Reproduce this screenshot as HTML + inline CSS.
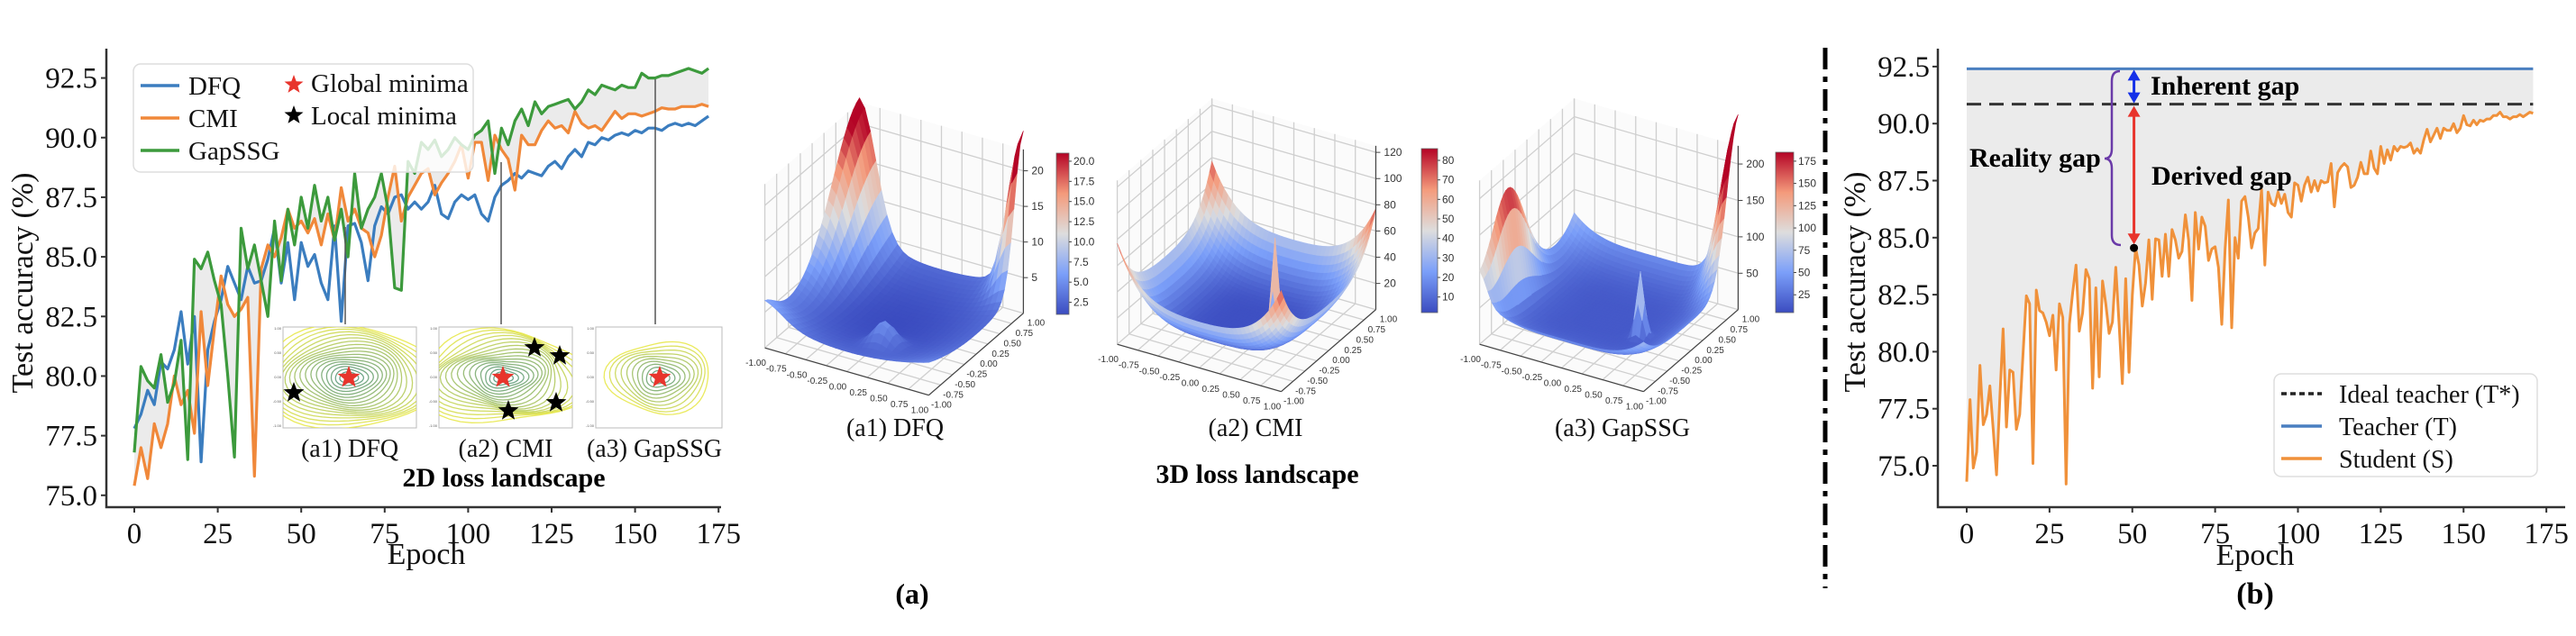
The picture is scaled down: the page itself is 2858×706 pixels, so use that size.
<!DOCTYPE html>
<html><head><meta charset="utf-8"><title>Loss landscape and accuracy gap figure</title>
<style>
html,body{margin:0;padding:0;background:#fff;}
svg{display:block;font-family:"Liberation Serif",serif;}
</style></head>
<body>
<svg id="fig" xmlns="http://www.w3.org/2000/svg" width="2858" height="706" viewBox="0 0 2858 706">
  <defs>
    <linearGradient id="cw" x1="0" y1="1" x2="0" y2="0">
      <stop offset="0" stop-color="#3b4cc0"/><stop offset="0.25" stop-color="#7b9ff9"/>
      <stop offset="0.5" stop-color="#dddddd"/><stop offset="0.75" stop-color="#f49a7b"/>
      <stop offset="1" stop-color="#b40426"/>
    </linearGradient>
    <clipPath id="clipA1"><rect x="314" y="363" width="148" height="112"/></clipPath>
    <clipPath id="clipA2"><rect x="487" y="363" width="148" height="112"/></clipPath>
    <clipPath id="clipA3"><rect x="661" y="363" width="140" height="112"/></clipPath>
  </defs>
  <g id="left"></g>
  <g id="mid"></g>
  <line x1="2025" y1="53" x2="2025" y2="653" stroke="#000" stroke-width="5" stroke-dasharray="24,8,6,8"/>
  <g id="right"></g>
</svg>
<script>
// ---------- Left chart data ----------
const leftEpochStep = 2;
const dfqAcc = [77.8,78.4,79.4,78.8,80.6,80.3,81.1,82.7,80.5,82.5,
76.4,81.1,82.3,83.2,84.6,83.9,83.2,84.6,83.9,84.0,
84.9,86.2,83.9,85.6,83.2,85.6,84.6,85.1,83.9,83.2,
86.3,82.3,86.3,86.4,85.6,84.0,86.3,87.1,86.8,87.5,
87.6,87.0,87.3,87.0,87.3,88.0,86.8,86.6,87.3,87.6,
87.4,87.6,86.8,86.5,87.5,88.0,88.2,88.5,88.3,88.6,
88.5,88.4,88.8,89.0,88.7,89.2,89.5,89.2,89.8,89.7,
90.0,89.9,90.1,90.2,90.1,90.3,90.2,90.4,90.4,90.3,
90.5,90.6,90.5,90.6,90.5,90.7,90.9];
const cmiAcc = [75.4,77.0,75.7,78.0,77.0,78.0,80.0,78.8,79.4,77.6,
82.7,79.6,82.0,84.2,83.0,82.5,82.8,83.3,75.8,84.5,
85.5,85.0,85.8,87.0,86.2,86.5,86.0,86.6,85.5,86.8,
85.7,87.9,86.5,87.0,86.2,86.0,85.0,85.9,87.5,88.8,
86.5,87.5,88.0,88.5,88.7,87.6,88.1,88.5,89.0,89.7,
88.3,89.8,89.8,88.2,90.1,89.5,89.1,87.8,90.1,89.7,
89.7,90.3,90.7,90.4,90.5,90.2,91.1,90.6,90.4,90.5,
90.3,90.7,91.1,90.8,91.0,91.0,90.9,91.0,91.1,91.25,
91.2,91.2,91.3,91.3,91.3,91.4,91.3];
const gapssgAcc = [76.8,80.4,79.8,79.5,80.9,78.9,79.7,81.5,76.5,84.9,
84.5,85.2,84.0,83.0,80.0,76.6,86.2,84.5,85.5,84.0,
82.5,86.5,84.0,87.0,85.5,87.5,86.2,88.0,86.5,87.5,
85.7,87.0,85.0,88.5,86.2,87.0,87.5,88.5,87.0,83.7,
83.6,89.0,88.5,89.8,89.5,89.9,89.2,89.5,90.0,89.7,
89.5,90.1,90.3,90.7,88.5,90.4,89.7,90.7,91.2,90.5,
91.5,91.0,91.3,91.4,91.5,91.6,91.2,91.5,92.0,91.8,
92.2,92.1,92.0,92.2,92.1,92.1,92.7,92.5,92.5,92.6,
92.6,92.7,92.8,92.9,92.8,92.7,92.9];
const yTicks = [75.0,77.5,80.0,82.5,85.0,87.5,90.0,92.5];
const xTicks = [0,25,50,75,100,125,150,175];

// ---------- Right chart data ----------
const studentAcc = [74.3,77.9,74.9,75.6,79.4,76.8,77.25,78.5,76.6,74.6,
78.0,81.0,76.7,79.2,79.1,76.6,77.25,79.9,82.45,82.1,
75.1,82.7,81.8,81.7,81.3,80.7,81.6,79.2,82.1,81.5,
74.2,81.2,82.6,83.8,80.9,81.7,83.6,83.2,78.4,82.8,
78.9,83.1,82.1,80.8,81.3,83.7,81.2,78.6,83.2,79.1,
82.5,84.55,83.8,82.0,83.0,84.9,82.3,84.95,84.9,83.3,
85.15,83.3,85.35,84.9,84.1,84.4,86.0,84.9,82.25,86.1,
84.5,85.9,85.5,84.0,84.5,84.6,83.7,81.2,84.5,86.65,
81.05,85.0,84.1,86.6,86.8,85.9,84.55,85.2,85.4,87.1,
83.8,87.0,86.5,86.4,87.0,86.5,86.9,86.1,85.9,87.4,
87.3,86.6,87.3,87.65,87.0,87.5,87.05,87.5,87.4,87.45,
88.25,86.35,87.85,88.1,88.25,88.1,87.2,87.3,87.65,88.3,
87.8,87.8,88.8,88.05,87.8,89.0,88.25,88.85,88.4,89.0,
88.8,89.0,88.95,89.0,89.15,88.7,88.9,88.7,89.3,89.75,
89.2,89.5,89.8,89.35,89.8,89.7,89.7,90.0,89.6,89.8,
90.35,89.95,89.9,90.15,89.95,90.15,90.1,90.2,90.2,90.35,
90.35,90.5,90.3,90.3,90.2,90.3,90.3,90.4,90.3,90.4,90.5,90.45];
const teacherAcc = 92.4;
const idealTeacherAcc = 90.85;
const gapEpoch = 51;

// ---------- 3D colorbar / z ticks ----------
const zTicksA1 = [5,10,15,20];
const cbTicksA1 = ["2.5","5.0","7.5","10.0","12.5","15.0","17.5","20.0"];
const zTicksA2 = [20,40,60,80,100,120];
const cbTicksA2 = ["10","20","30","40","50","60","70","80"];
const zTicksA3 = [50,100,150,200];
const cbTicksA3 = ["25","50","75","100","125","150","175"];
const gridTickLabels = ["-1.00","-0.75","-0.50","-0.25","0.00","0.25","0.50","0.75","1.00"];

const NS='http://www.w3.org/2000/svg';
function mk(tag, attrs, parent){const e=document.createElementNS(NS,tag);for(const k in attrs)e.setAttribute(k,attrs[k]);parent.appendChild(e);return e;}
function txt(str, attrs, parent){const e=mk('text',attrs,parent);e.textContent=str;return e;}

// ================= LEFT CHART =================
(function(){
  const g=document.getElementById('left');
  const X=e=>149+e*3.704, Y=v=>549.8-(v-75)*26.47;
  let d='';
  gapssgAcc.forEach((v,i)=>{d+=(i?'L':'M')+X(i*leftEpochStep)+','+Y(v);});
  for(let i=cmiAcc.length-1;i>=0;i--) d+='L'+X(i*leftEpochStep)+','+Y(cmiAcc[i]);
  const f=mk('path',{d:d+'Z',fill:'#e6e6e6',opacity:'0.8'},g);
  
  
  const series=[[dfqAcc,'#3b7dbf','dfq-line'],[cmiAcc,'#f0883a','cmi-line'],[gapssgAcc,'#3c9a3c','gapssg-line']];
  series.forEach(s=>{
    let p='';s[0].forEach((v,i)=>{p+=(i?'L':'M')+X(i*leftEpochStep).toFixed(1)+','+Y(v).toFixed(1);});
    const l=mk('path',{d:p,fill:'none',stroke:s[1],'stroke-width':'3.2','stroke-linejoin':'round'},g);
    
    
  });
  const ax=mk('path',{d:'M118,54 L118,563 L800,563',fill:'none',stroke:'#333','stroke-width':'2.5'},g);
  
  
  yTicks.forEach(t=>{
    mk('line',{x1:112,x2:118,y1:Y(t),y2:Y(t),stroke:'#333','stroke-width':2},g);
    const tl=txt(t.toFixed(1),{x:108,y:Y(t)+11,'font-size':33,'text-anchor':'end',fill:'#111'},g);
    
    
  });
  xTicks.forEach(t=>{
    mk('line',{x1:X(t),x2:X(t),y1:563,y2:569,stroke:'#333','stroke-width':2},g);
    const tl=txt(String(t),{x:X(t),y:603,'font-size':33,'text-anchor':'middle',fill:'#111'},g);
    
    
  });
  const xl=txt('Epoch',{x:473,y:626,'font-size':34,'text-anchor':'middle',fill:'#111'},g);
  
  
  const yl=txt('Test accuracy (%)',{x:0,y:0,'font-size':34,'text-anchor':'middle',fill:'#111',transform:'translate(36,314) rotate(-90)'},g);
  
  
  [[383,252],[556,180],[727,88]].forEach(c=>{
    const l=mk('line',{x1:c[0],x2:c[0],y1:c[1],y2:363,stroke:'#555','stroke-width':1.5},g);
    
    
  });
  mk('rect',{x:296,y:360,width:510,height:122,fill:'#fff'},g);
  function star(cx,cy,r,fill,name){
    let p='';for(let i=0;i<10;i++){const a=-Math.PI/2+i*Math.PI/5,rr=i%2?r*0.42:r;p+=(i?'L':'M')+(cx+rr*Math.cos(a)).toFixed(1)+','+(cy+rr*Math.sin(a)).toFixed(1);}
    const s=mk('path',{d:p+'Z',fill:fill},g);
    
    
  }
  function contours(fx,fw,clip,cx,cy,maxR,squash,wob,name){
    const fr=mk('rect',{x:fx,y:363,width:fw,height:112,fill:'#fff',stroke:'#bbb','stroke-width':1},g);
    
    
    const cg=mk('g',{'clip-path':'url(#'+clip+')'},g);
    const n=Math.floor(maxR/5);
    for(let k=1;k<=n;k++){
      const r=k*5, t=k/n;
      const col='rgb('+Math.round(60+t*170)+','+Math.round(135+t*95)+','+Math.round(125-t*60)+')';
      let p='';
      for(let j=0;j<=48;j++){const a=j/48*2*Math.PI;const rr=r*(1+wob*Math.sin(3*a+k*0.4)+wob*0.6*Math.cos(2*a));
        p+=(j?'L':'M')+(cx+rr*Math.cos(a)).toFixed(1)+','+(cy+rr*squash*Math.sin(a)).toFixed(1);}
      mk('path',{d:p+'Z',fill:'none',stroke:col,'stroke-width':1.3,opacity:0.85},cg);
    }
    ['1.00','0.50','0.00','-0.50','-1.00'].forEach((s,i)=>{txt(s,{x:fx-2,y:366+i*27,'font-size':4,'text-anchor':'end',fill:'#555','font-family':'Liberation Sans, sans-serif'},g);});
  }
  contours(314,148,'clipA1',387,419,95,0.62,0.06,'contour-inset-dfq');
  contours(487,148,'clipA2',558,419,90,0.6,0.1,'contour-inset-cmi');
  contours(661,140,'clipA3',732,419,55,0.75,0.08,'contour-inset-gapssg');
  star(387,419,13,'#e8342c','global-minimum-star-dfq');
  star(326,436,12,'#000','local-minimum-star');
  star(558,419,13,'#e8342c','global-minimum-star-cmi');
  star(593,386,12,'#000','local-minimum-star');
  star(621,395,12,'#000','local-minimum-star');
  star(617,447,12,'#000','local-minimum-star');
  star(564,456,12,'#000','local-minimum-star');
  star(732,419,13,'#e8342c','global-minimum-star-gapssg');
  [['(a1) DFQ',388],['(a2) CMI',561],['(a3) GapSSG',726]].forEach(s=>{
    const t=txt(s[0],{x:s[1],y:507,'font-size':28,'text-anchor':'middle',fill:'#111'},g);
    
    
  });
  const tt=txt('2D loss landscape',{x:559,y:540,'font-size':30,'font-weight':'bold','text-anchor':'middle',fill:'#000'},g);
  
  
  const lg=mk('g',{},g);
  
  
  mk('rect',{x:148,y:71,width:377,height:120,rx:8,fill:'#fff','fill-opacity':0.8,stroke:'#ddd','stroke-width':1.5},lg);
  [['DFQ','#3b7dbf',95],['CMI','#f0883a',131],['GapSSG','#3c9a3c',167]].forEach(r=>{
    mk('line',{x1:156,x2:199,y1:r[2],y2:r[2],stroke:r[1],'stroke-width':3.5},lg);
    const t=txt(r[0],{x:209,y:r[2]+10,'font-size':29,fill:'#111'},lg);
    
    
  });
  star(326,94,11,'#e8342c','legend-global-star');
  star(326,128,11,'#000','legend-local-star');
  [['Global minima',102],['Local minima',138]].forEach(r=>{
    const t=txt(r[0],{x:345,y:r[1],'font-size':29,fill:'#111'},lg);
    
    
  });
})();

// ================= MIDDLE 3D =================
function coolwarm(t){
  t=Math.max(0,Math.min(1,t));
  const st=[[0,[59,76,192]],[0.25,[123,159,249]],[0.5,[221,221,221]],[0.75,[244,154,123]],[1,[180,4,38]]];
  for(let i=1;i<st.length;i++){if(t<=st[i][0]){const a=st[i-1],b=st[i],u=(t-a[0])/(b[0]-a[0]);
    return 'rgb('+a[1].map((c,j)=>Math.round(c+(b[1][j]-c)*u)).join(',')+')';}}
  return 'rgb(180,4,38)';
}
function render3D(opt){
  const g=document.getElementById('mid');
  const grp=mk('g',{},g);
  
  
  const {cx,cy,S,f,zmin,zmax,cmin,cmax}=opt;
  const P=(x,y,z)=>[cx+S*(0.866*x+0.5*y), cy-S*(-0.25*x+0.433*y+0.866*z)];
  const ZN=z=>-1+2*(z-zmin)/(zmax-zmin);
  const pane=(pts)=>{let d='';pts.forEach((p,i)=>{const q=P(...p);d+=(i?'L':'M')+q[0].toFixed(1)+','+q[1].toFixed(1);});return d+'Z';};
  mk('path',{d:pane([[-1,-1,-1],[1,-1,-1],[1,1,-1],[-1,1,-1]]),fill:'#fbfbfb'},grp);
  mk('path',{d:pane([[-1,-1,-1],[-1,1,-1],[-1,1,1],[-1,-1,1]]),fill:'#fbfbfb'},grp);
  mk('path',{d:pane([[-1,1,-1],[1,1,-1],[1,1,1],[-1,1,1]]),fill:'#fbfbfb'},grp);
  const gl=(a,b)=>{const p=P(...a),q=P(...b);mk('line',{x1:p[0],y1:p[1],x2:q[0],y2:q[1],stroke:'#cfcfcf','stroke-width':1.3},grp);};
  for(let i=0;i<=8;i++){const v=-1+i*0.25;
    gl([v,-1,-1],[v,1,-1]);gl([-1,v,-1],[1,v,-1]);
    gl([-1,v,-1],[-1,v,1]);gl([v,1,-1],[v,1,1]);}
  opt.zt.forEach(z=>{const zn=ZN(z);gl([-1,-1,zn],[-1,1,zn]);gl([-1,1,zn],[1,1,zn]);});
  const N=opt.N, quads=[];
  const Z=[];for(let i=0;i<=N;i++){Z.push([]);for(let j=0;j<=N;j++){Z[i].push(f(-1+2*i/N,-1+2*j/N));}}
  for(let i=0;i<N;i++)for(let j=0;j<N;j++){
    const xs=[-1+2*i/N,-1+2*(i+1)/N],ys=[-1+2*j/N,-1+2*(j+1)/N];
    const zs=[Z[i][j],Z[i+1][j],Z[i+1][j+1],Z[i][j+1]];
    const zc=(zs[0]+zs[1]+zs[2]+zs[3])/4;
    const pts=[[xs[0],ys[0],zs[0]],[xs[1],ys[0],zs[1]],[xs[1],ys[1],zs[2]],[xs[0],ys[1],zs[3]]];
    const depth=0.433*(xs[0]+xs[1])/2-0.75*(ys[0]+ys[1])/2+0.5*ZN(zc)*0.3;
    quads.push({pts,zc,depth});
  }
  quads.sort((a,b)=>a.depth-b.depth);
  const sg=mk('g',{},grp);
  
  
  quads.forEach(q=>{
    let d='';q.pts.forEach((p,k)=>{const s=P(p[0],p[1],ZN(p[2]));d+=(k?'L':'M')+s[0].toFixed(1)+','+s[1].toFixed(1);});
    const c=coolwarm((q.zc-cmin)/(cmax-cmin));
    mk('path',{d:d+'Z',fill:c,stroke:c,'stroke-width':0.6},sg);
  });
  const ae=(a,b)=>{const p=P(...a),q=P(...b);mk('line',{x1:p[0],y1:p[1],x2:q[0],y2:q[1],stroke:'#444','stroke-width':1.2},grp);};
  ae([-1,-1,-1],[1,-1,-1]);ae([1,-1,-1],[1,1,-1]);ae([1,1,-1],[1,1,1]);
  opt.zt.forEach(z=>{const p=P(1,1,ZN(z));
    mk('line',{x1:p[0],y1:p[1],x2:p[0]+5,y2:p[1],stroke:'#444'},grp);
    const t=txt(String(z),{x:p[0]+9,y:p[1]+4,'font-size':12,fill:'#333','font-family':'Liberation Sans, sans-serif'},grp);
    
    });
  gridTickLabels.forEach((s,i)=>{const v=-1+i*0.25;
    const p=P(v,-1,-1);
    const t=txt(s,{x:p[0]-10,y:p[1]+20,'font-size':10,fill:'#333','text-anchor':'middle','font-family':'Liberation Sans, sans-serif'},grp);
    
    
    const q=P(1,v,-1);
    const t2=txt(s,{x:q[0]+14,y:q[1]+14,'font-size':10,fill:'#333','text-anchor':'middle','font-family':'Liberation Sans, sans-serif'},grp);
    
    });
  const cb=mk('rect',{x:opt.cbx,y:opt.cby,width:opt.cbw,height:opt.cbh,fill:'url(#cw)',stroke:'#666','stroke-width':0.8},grp);
  
  
  opt.cbt.forEach(s=>{const v=parseFloat(s);const y=opt.cby+opt.cbh-(v-cmin)/(cmax-cmin)*opt.cbh;
    mk('line',{x1:opt.cbx+opt.cbw,x2:opt.cbx+opt.cbw+3,y1:y,y2:y,stroke:'#444'},grp);
    const t=txt(s,{x:opt.cbx+opt.cbw+5,y:y+4,'font-size':12,fill:'#333','font-family':'Liberation Sans, sans-serif'},grp);
    
    });
  const lab=txt(opt.label,{x:opt.lx,y:484,'font-size':28,'text-anchor':'middle',fill:'#111'},grp);
  
  
}
const E=Math.exp;
render3D({name:'surface-dfq',cx:992,cy:276,S:105,N:30,zmin:0,zmax:23,cmin:1,cmax:21,zt:zTicksA1,
  f:(x,y)=>1+1.8*(x*x+y*y)+19*E(-(((x+1)**2)/0.08+((y-1)**2)/0.7))+21*E(-(((x-1)**2)/0.05+((y-1)**2)/0.07))+3.5*E(-(((x-0.2)**2+(y+0.55)**2)/0.03))+2*E(-((x+1)**2+(y+1)**2)/0.1),
  cbx:1172,cby:170,cbw:14,cbh:179,cbt:cbTicksA1,label:'(a1) DFQ',lx:993});
render3D({name:'surface-cmi',cx:1383,cy:272,S:105,N:40,zmin:0,zmax:125,cmin:2,cmax:86,zt:zTicksA2,
  f:(x,y)=>3+32*(x**4+y**4)+10*(x*x*y*y)+82*E(-(((x-0.55)**2+(y+0.35)**2)/0.004)),
  cbx:1577,cby:165,cbw:18,cbh:182,cbt:cbTicksA2,label:'(a2) CMI',lx:1393});
render3D({name:'surface-gapssg',cx:1785,cy:272,S:105,N:40,zmin:0,zmax:225,cmin:5,cmax:185,zt:zTicksA3,
  f:(x,y)=>12+28*(x**4+y**4)+200*E(-(((x-1)**2)/0.06+((y-1)**2)/0.12))+140*E(-(((x+1)**2)/0.015+((y+0.4)**2)/0.25))+90*E(-(((x-0.5)**2+(y+0.2)**2)/0.004)),
  cbx:1970,cby:169,cbw:20,cbh:178,cbt:cbTicksA3,label:'(a3) GapSSG',lx:1800});
(function(){
  const g=document.getElementById('mid');
  const t=txt('3D loss landscape',{x:1395,y:536,'font-size':30,'font-weight':'bold','text-anchor':'middle',fill:'#000'},g);
  
  
  const a=txt('(a)',{x:1012,y:670,'font-size':32,'font-weight':'bold','text-anchor':'middle',fill:'#000'},g);
  
  
})();

// ================= RIGHT CHART =================
(function(){
  const g=document.getElementById('right');
  const X=e=>2182+e*3.675, Y=v=>517-(v-75)*25.32;
  const last=studentAcc.length-1;
  let d='M'+X(0)+','+Y(teacherAcc)+'L'+X(last)+','+Y(teacherAcc);
  for(let i=last;i>=0;i--) d+='L'+X(i).toFixed(1)+','+Y(studentAcc[i]).toFixed(1);
  const fl=mk('path',{d:d+'Z',fill:'#ebebeb'},g);
  
  
  const tl=mk('line',{x1:X(0),x2:X(last),y1:Y(teacherAcc),y2:Y(teacherAcc),stroke:'#4a7fc0','stroke-width':3},g);
  
  
  const il=mk('line',{x1:X(0),x2:X(last),y1:Y(idealTeacherAcc),y2:Y(idealTeacherAcc),stroke:'#333','stroke-width':3,'stroke-dasharray':'16,9'},g);
  
  
  let p='';studentAcc.forEach((v,i)=>{p+=(i?'L':'M')+X(i).toFixed(1)+','+Y(v).toFixed(1);});
  const sl=mk('path',{d:p,fill:'none',stroke:'#f0913a','stroke-width':3,'stroke-linejoin':'round'},g);
  
  
  const ax=mk('path',{d:'M2150,54 L2150,563 L2846,563',fill:'none',stroke:'#333','stroke-width':2.5},g);
  
  
  yTicks.forEach(t=>{
    mk('line',{x1:2144,x2:2150,y1:Y(t),y2:Y(t),stroke:'#333','stroke-width':2},g);
    const l=txt(t.toFixed(1),{x:2141,y:Y(t)+11,'font-size':33,'text-anchor':'end',fill:'#111'},g);
    
    
  });
  xTicks.forEach(t=>{
    mk('line',{x1:X(t),x2:X(t),y1:563,y2:569,stroke:'#333','stroke-width':2},g);
    const l=txt(String(t),{x:X(t),y:603,'font-size':33,'text-anchor':'middle',fill:'#111'},g);
    
    
  });
  const xl=txt('Epoch',{x:2502,y:627,'font-size':34,'text-anchor':'middle',fill:'#111'},g);
  
  
  const yl=txt('Test accuracy (%)',{x:0,y:0,'font-size':34,'text-anchor':'middle',fill:'#111',transform:'translate(2069,313) rotate(-90)'},g);
  
  
  const b=txt('(b)',{x:2502,y:670,'font-size':34,'font-weight':'bold','text-anchor':'middle',fill:'#000'},g);
  
  
  const ex=X(gapEpoch-0.5), yT=Y(teacherAcc), yI=Y(idealTeacherAcc), yS=Y(studentAcc[gapEpoch]);
  const arr=(y1,y2,col,name)=>{
    const a=mk('g',{},g);
    
    
    mk('line',{x1:ex,x2:ex,y1:y1+8,y2:y2-8,stroke:col,'stroke-width':3},a);
    mk('path',{d:`M${ex-7},${y1+12} L${ex},${y1} L${ex+7},${y1+12}Z`,fill:col},a);
    mk('path',{d:`M${ex-7},${y2-12} L${ex},${y2} L${ex+7},${y2-12}Z`,fill:col},a);
  };
  arr(yT+1,yI-1,'#1530e8','inherent-gap-arrow');
  arr(yI+2,yS-4,'#e8342c','derived-gap-arrow');
  const dot=mk('circle',{cx:ex,cy:yS,r:4.5,fill:'#000'},g);
  
  
  const br=mk('path',{d:`M2352,79 Q2343,79 2343,90 L2343,165 Q2343,176 2335,176 Q2343,176 2343,187 L2343,261 Q2343,272 2353,272`,fill:'none',stroke:'#6a3aa8','stroke-width':2.5},g);
  
  
  [['Inherent gap',2386,105,'inherent-gap-label'],['Reality gap',2185,185,'reality-gap-label'],['Derived gap',2387,205,'derived-gap-label']].forEach(s=>{
    const t=txt(s[0],{x:s[1],y:s[2],'font-size':30,'font-weight':'bold',fill:'#000'},g);
    
    
  });
  const lg=mk('g',{},g);
  
  
  mk('rect',{x:2523,y:415,width:292,height:114,rx:8,fill:'#fff','fill-opacity':0.9,stroke:'#ddd','stroke-width':1.5},lg);
  [['Ideal teacher (T*)',437,'#222','6,4'],['Teacher (T)',473,'#4a7fc0',''],['Student (S)',509,'#f0913a','']].forEach(r=>{
    const l=mk('line',{x1:2531,x2:2576,y1:r[1],y2:r[1],stroke:r[2],'stroke-width':3.5},lg);
    if(r[3]) l.setAttribute('stroke-dasharray',r[3]);
    const t=txt(r[0],{x:2595,y:r[1]+10,'font-size':28,fill:'#111'},lg);
    
    
  });
})();
</script>
</body></html>
